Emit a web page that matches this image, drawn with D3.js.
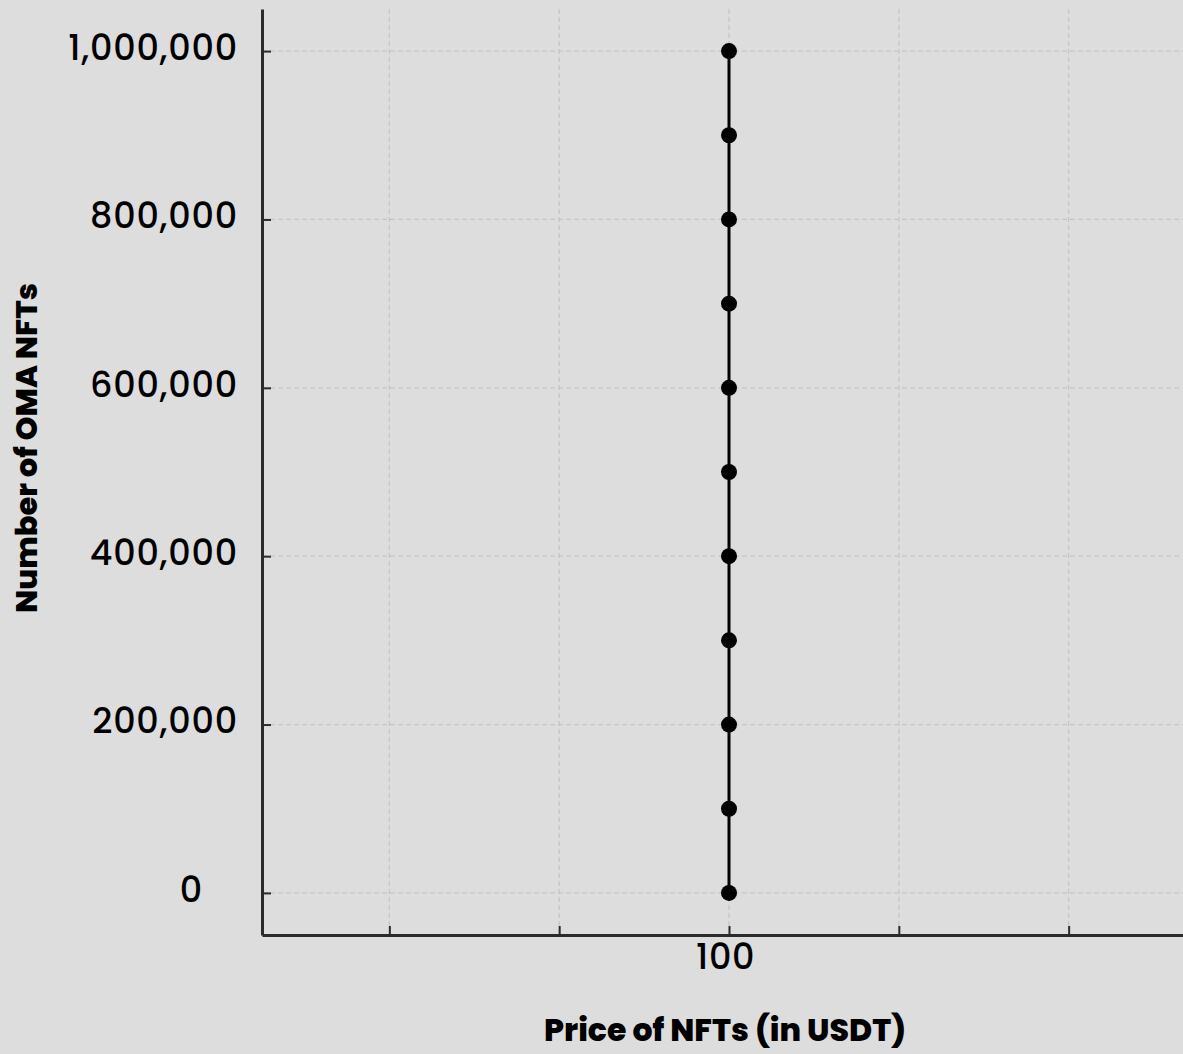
<!DOCTYPE html>
<html><head><meta charset="utf-8">
<script src="https://cdn.jsdelivr.net/npm/d3@7"></script>
<style>
html,body{margin:0;padding:0;background:#dddddd;}
svg{display:block;}
</style></head>
<body>
<svg id="chart" width="1183" height="1054"></svg>
<script>
const prices = [100,100,100,100,100,100,100,100,100,100,100];
const counts = [0,100000,200000,300000,400000,500000,600000,700000,800000,900000,1000000];
const xTickValues = [99.96,99.98,100,100.02,100.04];
const xTickLabels = ["","","100","",""];
const yTickValues = [0,200000,400000,600000,800000,1000000];
const yTickLabels = ["0","200,000","400,000","600,000","800,000","1,000,000"];

(function(){
const svg = d3.select("#chart");
const W = 1183, H = 1054;
const mLeft = 262, mRight = 1196, mTop = 9, mBottom = 935;

svg.append("rect").attr("width",W).attr("height",H).attr("fill","#dddddd");

const x = d3.scaleLinear().domain([99.945,100.055]).range([mLeft,mRight]);
const y = d3.scaleLinear().domain([-50000,1050000]).range([mBottom,mTop]);

const font = "'Poppins','Inter','Noto Sans',sans-serif";

const grid = svg.append("g");
grid.selectAll("line.gx").data(xTickValues).join("line").attr("class","gx")
  .attr("x1",d=>x(d)).attr("x2",d=>x(d)).attr("y1",mTop).attr("y2",mBottom)
  .attr("stroke","#c6c6c6").attr("stroke-width",1.3).attr("stroke-dasharray","5,3");
grid.selectAll("line.gy").data(yTickValues).join("line").attr("class","gy")
  .attr("x1",mLeft).attr("x2",W).attr("y1",d=>y(d)).attr("y2",d=>y(d))
  .attr("stroke","#c6c6c6").attr("stroke-width",1.3).attr("stroke-dasharray","5,3");

const xAxis = d3.axisBottom(x).tickValues(xTickValues)
  .tickFormat((d,i)=>xTickLabels[i]).tickSizeInner(-9).tickSizeOuter(0).tickPadding(9);
const gx = svg.append("g").attr("transform",`translate(0,${mBottom})`).call(xAxis);
gx.select(".domain").attr("stroke","#2b2b2b").attr("stroke-width",3);
gx.selectAll(".tick line").attr("stroke","#2b2b2b").attr("stroke-width",2);
gx.selectAll(".tick text").attr("font-family",font).attr("font-size",35).attr("font-weight",500)
  .attr("letter-spacing",0.6).attr("dx",-4).attr("fill","#000");

const yAxis = d3.axisLeft(y).tickValues(yTickValues)
  .tickFormat((d,i)=>yTickLabels[i]).tickSizeInner(-9).tickSizeOuter(0).tickPadding(24);
const gy = svg.append("g").attr("transform",`translate(${mLeft},0)`).call(yAxis);
gy.select(".domain").attr("stroke","#2b2b2b").attr("stroke-width",3);
gy.selectAll(".tick line").attr("stroke","#2b2b2b").attr("stroke-width",2);
gy.selectAll(".tick text").attr("font-family",font).attr("font-size",35).attr("font-weight",500)
  .attr("letter-spacing",0.8).attr("dy","0.24em").attr("fill","#000")
  .attr("dx",d=>d===0?-35:0);

const pts = prices.map((p,i)=>({p, c:counts[i]}));
svg.append("path").datum(pts)
  .attr("d", d3.line().x(d=>x(d.p)).y(d=>y(d.c)))
  .attr("fill","none").attr("stroke","#000").attr("stroke-width",3);
svg.selectAll("circle.pt").data(pts).join("circle").attr("class","pt")
  .attr("cx",d=>x(d.p)).attr("cy",d=>y(d.c)).attr("r",8).attr("fill","#000");

svg.append("text").attr("x",725).attr("y",1041).attr("text-anchor","middle")
  .attr("font-family",font).attr("font-weight",800).attr("font-size",31.5).attr("fill","#000")
  .text("Price of NFTs (in USDT)");
svg.append("text").attr("transform","translate(37,448) rotate(-90)").attr("text-anchor","middle")
  .attr("font-family",font).attr("font-weight",800).attr("font-size",30.5).attr("fill","#000")
  .text("Number of OMA NFTs");
})();
</script>
</body></html>
